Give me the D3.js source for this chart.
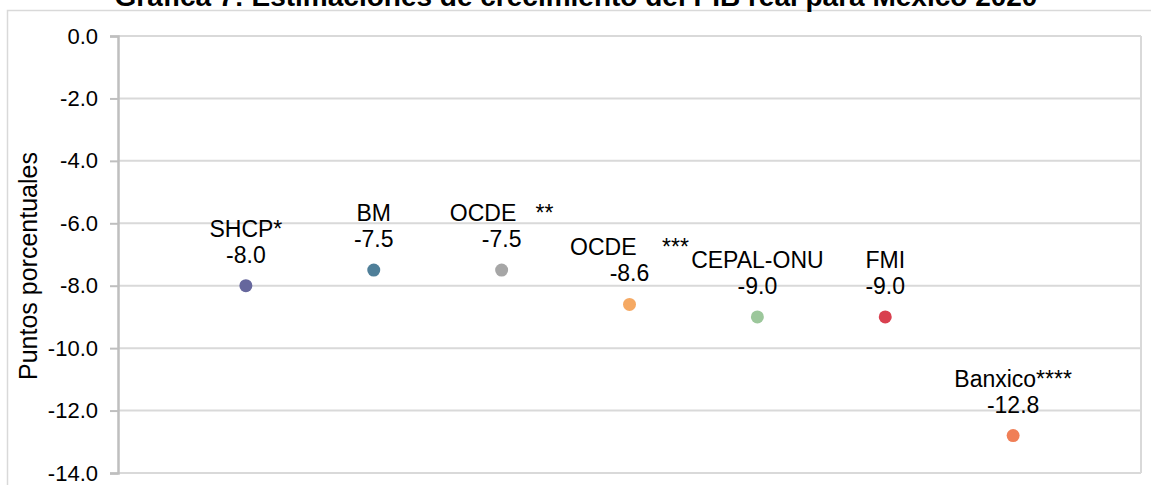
<!DOCTYPE html>
<html>
<head>
<meta charset="utf-8">
<script src="https://cdn.jsdelivr.net/npm/d3@7"></script>
<style>
  html, body { margin: 0; padding: 0; background: #fff; }
  svg { display: block; font-family: Arial, "Liberation Sans", sans-serif; }
</style>
</head>
<body>
<svg id="chart" width="1151" height="485"></svg>
<script>
const categories = ["SHCP*", "BM", "OCDE   **", "OCDE    ***", "CEPAL-ONU", "FMI", "Banxico****"];
const values = [-8.0, -7.5, -7.5, -8.6, -9.0, -9.0, -12.8];
const colors = ["#66679d", "#4f7f99", "#a6a6a6", "#f5a963", "#9cc79b", "#d9404f", "#f07f57"];
const yTicks = [0, -2, -4, -6, -8, -10, -12, -14];
const title = "Gráfica 7: Estimaciones de crecimiento del PIB real para México 2020";
const yTitle = "Puntos porcentuales";

const svg = d3.select("#chart");
const plot = { left: 118, right: 1141, top: 36, bottom: 473 };
const fmt = d => d.toFixed(1);

// outer chart border
svg.append("rect")
  .attr("x", 7.5).attr("y", 10.5)
  .attr("width", 1170).attr("height", 520)
  .attr("fill", "none").attr("stroke", "#d9d9d9").attr("stroke-width", 1.5);

// title (partially cut at the top, as in the reference)
svg.append("text")
  .attr("x", 576).attr("y", 6)
  .attr("text-anchor", "middle")
  .attr("font-weight", "bold").attr("font-size", 28)
  .attr("fill", "#000")
  .text(title);

const x = d3.scaleLinear().domain([0, categories.length + 1]).range([plot.left, plot.right]);
const y = d3.scaleLinear().domain([0, -14]).range([plot.top, plot.bottom]);

// gridlines
svg.append("g").selectAll("line").data(yTicks).join("line")
  .attr("x1", plot.left).attr("x2", plot.right)
  .attr("y1", d => y(d)).attr("y2", d => y(d))
  .attr("stroke", "#d9d9d9").attr("stroke-width", 2);

// right border of plot area
svg.append("line")
  .attr("x1", plot.right).attr("x2", plot.right)
  .attr("y1", plot.top).attr("y2", plot.bottom)
  .attr("stroke", "#d9d9d9").attr("stroke-width", 2);

// y axis
const yAxis = d3.axisLeft(y).tickValues(yTicks).tickSize(8).tickPadding(12).tickFormat(fmt);
const gy = svg.append("g").attr("transform", `translate(${plot.left},0)`).call(yAxis);
gy.select(".domain").attr("stroke", "#bfbfbf").attr("stroke-width", 2.5);
gy.selectAll(".tick line").attr("stroke", "#bfbfbf").attr("stroke-width", 2);
gy.selectAll(".tick text").attr("font-size", 22).attr("fill", "#000")
  .attr("font-family", "Arial, 'Liberation Sans', sans-serif");

// y title
svg.append("text")
  .attr("transform", `translate(37,266) rotate(-90)`)
  .attr("text-anchor", "middle")
  .attr("font-size", 25).attr("fill", "#000")
  .text(yTitle);

// points
const data = categories.map((c, i) => ({ c, v: values[i], col: colors[i], i }));
svg.append("g").selectAll("circle").data(data).join("circle")
  .attr("cx", d => x(d.i + 1)).attr("cy", d => y(d.v))
  .attr("r", 6.5).attr("fill", d => d.col);

// labels
const lab = svg.append("g").attr("font-size", 23).attr("fill", "#000").attr("text-anchor", "middle");
lab.selectAll("text.name").data(data).join("text").attr("class", "name")
  .attr("x", d => x(d.i + 1)).attr("y", d => y(d.v) - 49)
  .style("white-space", "pre")
  .text(d => d.c);
lab.selectAll("text.val").data(data).join("text").attr("class", "val")
  .attr("x", d => x(d.i + 1)).attr("y", d => y(d.v) - 23)
  .text(d => fmt(d.v));
</script>
</body>
</html>
